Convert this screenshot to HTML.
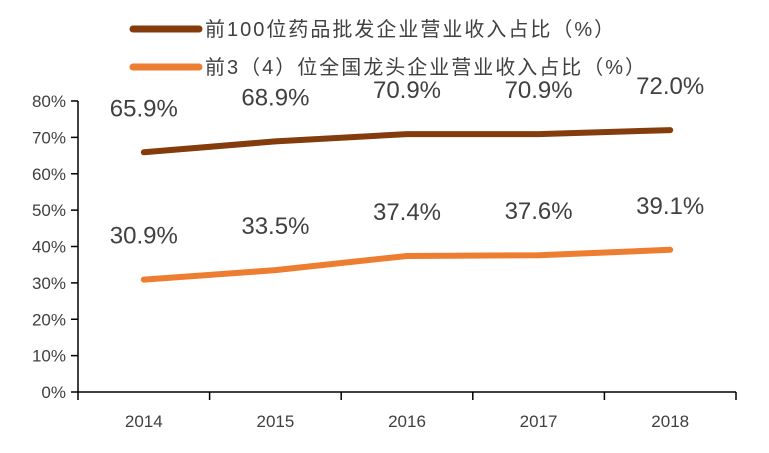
<!DOCTYPE html>
<html><head><meta charset="utf-8"><style>
body{margin:0;background:#fff;width:769px;height:448px;overflow:hidden}
text{font-family:"Liberation Sans","Noto Sans CJK SC",sans-serif;fill:#404040}
</style></head><body>
<svg id="chart" width="769" height="448" viewBox="0 0 769 448">
<g>
 <g>
  <line x1="133" y1="29" x2="199" y2="29" stroke="#843c0c" stroke-width="7" stroke-linecap="round"/>
  <text x="205" y="36" font-size="20" letter-spacing="2">前100位药品批发企业营业收入占比（%）</text>
 </g>
 <g>
  <line x1="133" y1="67" x2="199" y2="67" stroke="#ed7d31" stroke-width="7" stroke-linecap="round"/>
  <text x="205" y="74" font-size="20" letter-spacing="2">前3（4）位全国龙头企业营业收入占比（%）</text>
 </g>
</g>
<g id="axes"></g>
<g id="series"></g>
</svg>
<script>
const years=["2014","2015","2016","2017","2018"];
const top100=[65.9,68.9,70.9,70.9,72.0];
const top3=[30.9,33.5,37.4,37.6,39.1];
const yTicks=[0,10,20,30,40,50,60,70,80];
const NS="http://www.w3.org/2000/svg";
const x0=78,x1=736,y0=392,yTop=101;
const step=(x1-x0)/years.length;
const X=i=>x0+step*(i+0.5);
const Y=v=>y0-(v/80)*(y0-yTop);
function mk(t,a,p){const e=document.createElementNS(NS,t);for(const k in a)e.setAttribute(k,a[k]);p.appendChild(e);return e;}
const ax=document.getElementById('axes');
const yl=mk('line',{x1:x0,y1:yTop,x2:x0,y2:y0,stroke:'#000','stroke-width':1.5},ax);


const xl=mk('line',{x1:x0,y1:y0,x2:x1,y2:y0,stroke:'#000','stroke-width':1.5},ax);


yTicks.forEach(v=>{
 mk('line',{x1:x0-7,y1:Y(v),x2:x0,y2:Y(v),stroke:'#000','stroke-width':1.5},ax);
 const t=mk('text',{x:x0-12,y:Y(v)+6,'font-size':17,'text-anchor':'end'},ax);
 t.textContent=v+'%';
 
 
});
for(let i=0;i<=years.length;i++){
 mk('line',{x1:x0+step*i,y1:y0,x2:x0+step*i,y2:y0+8,stroke:'#000','stroke-width':1.5},ax);
}
years.forEach((yr,i)=>{
 const t=mk('text',{x:X(i),y:427,'font-size':17,'text-anchor':'middle'},ax);
 t.textContent=yr;
 
 
});
const sg=document.getElementById('series');
function series(data,color,name){
 const pts=data.map((v,i)=>X(i)+','+Y(v)).join(' ');
 const pl=mk('polyline',{points:pts,fill:'none',stroke:color,'stroke-width':6,'stroke-linecap':'round','stroke-linejoin':'round'},sg);
 
 
 data.forEach((v,i)=>{
  const t=mk('text',{x:X(i),y:Y(v)-36,'font-size':24,'text-anchor':'middle'},sg);
  t.textContent=v.toFixed(1)+'%';
  
  
 });
}
series(top100,'#843c0c','top100');
series(top3,'#ed7d31','top3');
</script>
</body></html>
